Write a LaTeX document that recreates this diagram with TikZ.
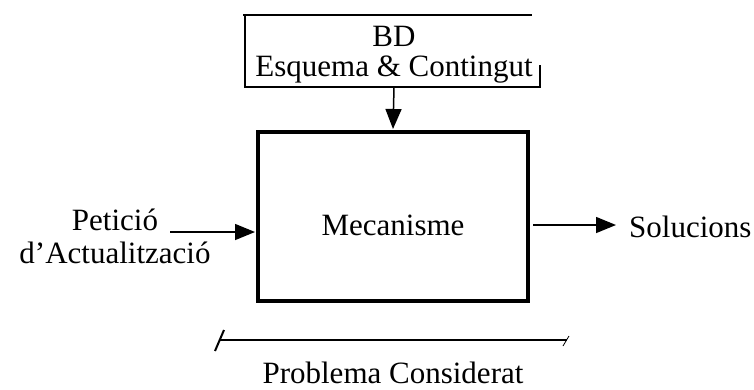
\documentclass[tikz,border=0pt]{standalone}
\usepackage{fontspec}
\setmainfont{Liberation Serif}
\usetikzlibrary{arrows.meta}

\tikzset{
	txt/.style={inner sep=0pt, font=\fontsize{31}{36}\selectfont},
	flow/.style={-{Triangle[length=20pt,width=16pt]}, line width=1.5pt},
	bdline/.style={line width=1.6pt},
}

\begin{document}
\begin{tikzpicture}[x=1pt,y=-1pt]
	\useasboundingbox (0,0) rectangle (754,389);

	\node[draw, line width=4pt, minimum width=270pt, minimum height=169pt] (mech) at (393,216.5) {};
	\node[txt] (mectxt) at (393,225) {Mecanisme};

	\node[txt] (bd) at (394,36) {BD};
	\node[txt] (esq) at (394,70) {Esquema \& Contingut};
	\draw[bdline] (243,15) -- (532,15);
	\draw[bdline] (245,15) -- (245,87) -- (540,87) -- (540,65);
	\coordinate (bdbot) at (394,87);

	\node[txt, align=center] (pet) at (115,236) {Petició\\[-3pt]d’Actualització};
	\coordinate (in) at (170,232);
	\node[txt, anchor=west] (sol) at (629,227) {Solucions};
	\coordinate (out) at (533,225);

	\path[flow] (bdbot) edge (mech.north |- 0,129);
	\path[flow] (in) edge (255,232);
	\path[flow] (out) edge (616,225);

	\coordinate (pl) at (220,340);
	\coordinate (pr) at (567,340);
	\draw[line width=1.2pt] (pl) -- (pr);
	\draw[line width=2pt] (215,351) -- (224,330);
	\draw[line width=0.8pt] (563,346) -- (569,336);
	\node[txt] (prob) at (393,373) {Problema Considerat};
\end{tikzpicture}
\end{document}
